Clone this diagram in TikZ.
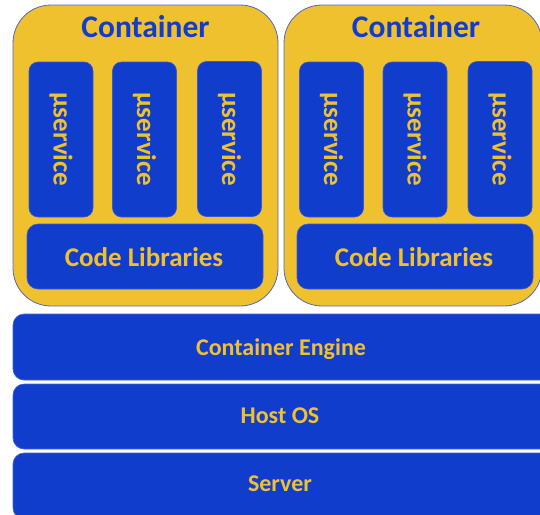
\documentclass[tikz,border=0pt]{standalone}
\usepackage{fontspec}
\setmainfont{Carlito}
\definecolor{gold}{HTML}{F0C12E}
\definecolor{royal}{HTML}{113DCD}
\definecolor{rim}{HTML}{5068C0}
\tikzset{
  container/.style={draw=rim, line width=0.8pt, fill=gold, rounded corners=38pt, inner sep=0pt},
  svcbox/.style={draw=royal!85!white, line width=0.6pt, fill=royal, rounded corners=9pt,
    minimum width=64pt, minimum height=155pt, inner sep=0pt},
  libbox/.style={draw=royal!85!white, line width=0.6pt, fill=royal, rounded corners=11pt,
    minimum width=236pt, minimum height=65pt, inner sep=0pt},
  libtext/.style={text=gold, font=\bfseries\fontsize{27}{30}\selectfont, inner sep=0pt},
  layerbox/.style={draw=royal!80!white, line width=0.6pt, fill=royal, rounded corners=11pt,
    minimum width=547pt, inner sep=0pt},
  layertext/.style={text=gold, font=\bfseries\fontsize{24}{27}\selectfont, inner sep=0pt},
  title/.style={text=royal, font=\bfseries\fontsize{31.5}{34}\selectfont, inner sep=0pt},
  svclabel/.style={text=gold, rotate=-90, font=\bfseries\fontsize{27}{30}\selectfont, inner sep=0pt}
}
\begin{document}
\begin{tikzpicture}[x=1pt, y=-1pt]
  \useasboundingbox (0,0) rectangle (540,514);
  \clip (0,0) rectangle (540,514);

  % two containers
  \node[container, minimum width=265pt, minimum height=301pt] (c1) at (145.5,155.5) {};
  \node[container, minimum width=258pt, minimum height=301pt] (c2) at (413,155.5) {};
  \node[title] (t1) at (145.5,27) {Container};
  \node[title] (t2) at (416,27) {Container};

  % microservices in the first container
  \node[svcbox] (a1) at (61,139.5) {};
  \node[svcbox] (a2) at (144.5,139.5) {};
  \node[svcbox] (a3) at (229.5,139) {};
  \node[svclabel] (la1) at (a1) {µservice};
  \node[svclabel] (la2) at (a2) {µservice};
  \node[svclabel] (la3) at (a3) {µservice};
  \node[libbox] (lib1) at (145,256.5) {};
  \node[libtext] (lt1) at (144,257) {Code Libraries};

  % microservices in the second container
  \node[svcbox] (b1) at (331.5,139.5) {};
  \node[svcbox] (b2) at (415,139.5) {};
  \node[svcbox] (b3) at (500,139) {};
  \node[svclabel] (lb1) at (b1) {µservice};
  \node[svclabel] (lb2) at (b2) {µservice};
  \node[svclabel] (lb3) at (b3) {µservice};
  \node[libbox] (lib2) at (415,256.5) {};
  \node[libtext] (lt2) at (414,257) {Code Libraries};

  % platform layers
  \node[layerbox, minimum height=66pt] (engine) at (286.5,347) {};
  \node[layerbox, minimum height=65pt] (hostos) at (286.5,416.5) {};
  \node[layerbox, minimum height=66pt] (server) at (286.5,486) {};
  \node[layertext] (et) at (281,349) {Container Engine};
  \node[layertext] (ht) at (280,416) {Host OS};
  \node[layertext] (st) at (280,484) {Server};
\end{tikzpicture}
\end{document}
